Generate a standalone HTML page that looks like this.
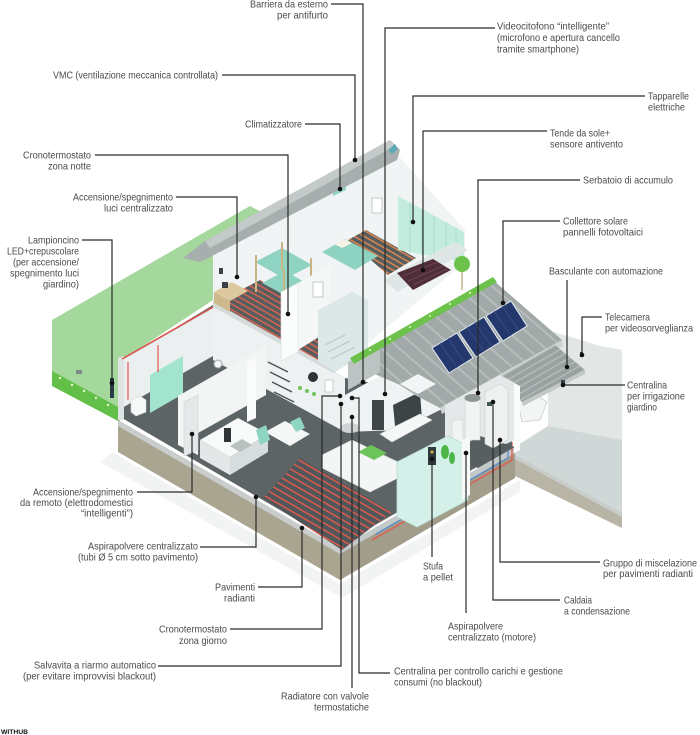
<!DOCTYPE html>
<html><head><meta charset="utf-8">
<style>
html,body{margin:0;padding:0;background:#fff;}
svg{display:block}
text{font-family:"Liberation Sans Narrow","Liberation Sans",sans-serif;font-size:10.5px;fill:#4a4a4a}
</style></head><body>
<svg width="700" height="735" viewBox="0 0 700 735" xmlns="http://www.w3.org/2000/svg">
<defs>
<pattern id="tubeU" width="5" height="5" patternUnits="userSpaceOnUse" patternTransform="rotate(30)">
<rect width="5" height="5" fill="#565d5f"/><line x1="0" y1="2.5" x2="5" y2="2.5" stroke="#e2634f" stroke-width="1.4"/></pattern>
<pattern id="tubeO" width="5" height="5" patternUnits="userSpaceOnUse" patternTransform="rotate(30)">
<rect width="5" height="5" fill="#565d5f"/><line x1="0" y1="2.5" x2="5" y2="2.5" stroke="#e68a4f" stroke-width="1.4"/></pattern>
<pattern id="tubeG" width="6" height="6" patternUnits="userSpaceOnUse" patternTransform="rotate(30)">
<rect width="6" height="6" fill="#50575a"/><line x1="0" y1="3" x2="6" y2="3" stroke="#e05a4c" stroke-width="1.5"/></pattern>
<pattern id="roofR" width="12" height="12" patternUnits="userSpaceOnUse" patternTransform="rotate(41)">
<rect width="12" height="12" fill="#a2aaa9"/><rect y="0" width="12" height="2" fill="#b6bdbc"/></pattern>
<pattern id="canopy" width="6" height="6" patternUnits="userSpaceOnUse" patternTransform="rotate(-30)">
<rect width="6" height="6" fill="#99a2a1"/><rect y="0" width="6" height="1.5" fill="#b3bab9"/></pattern>
</defs>

<!-- faint shadow -->
<polygon points="112,452 340,584 520,480 520,492 342,598 100,462" fill="#f2f3f3"/>

<!-- right ground block -->
<polygon points="548,330 600,346 622,350 622,442 548,428" fill="#e2e7e6"/>
<polygon points="515,447 548,426 622,440 622,513 515,455" fill="#d0d8d7"/>
<polygon points="515,455 622,513 622,528 515,476" fill="#b8b5a6"/>
<polygon points="515,455 622,513 622,517 515,459" fill="#c8cdcc"/>

<!-- lawn -->
<polygon points="52,320 250,206 292,228 213,300 122,360 122,420 52,384" fill="#a4d89c"/>
<polygon points="52,371 120,408 120,422 52,386" fill="#62bf48"/>
<g fill="#e9f7c8">
<circle cx="60" cy="378" r="1.2"/><circle cx="72" cy="385" r="1.2"/><circle cx="84" cy="391" r="1.2"/><circle cx="96" cy="398" r="1.2"/><circle cx="108" cy="405" r="1.2"/>
</g>
<rect x="76" y="370" width="6" height="4" fill="#7f8a8a"/>
<rect x="110" y="378" width="4" height="20" fill="#2b3a48"/>

<!-- ground floor slab faces -->
<polygon points="118,420 340,548 340,580 118,452" fill="#aaa591"/>
<polygon points="118,420 340,548 340,554 118,426" fill="#c9cecd"/>
<polygon points="340,548 515,447 515,478 340,580" fill="#a29d8a"/>
<polygon points="340,548 515,447 515,453 340,554" fill="#c3c9c8"/>
<polyline points="376,534 508,458 508,440" fill="none" stroke="#5b8fd0" stroke-width="1.3"/>
<polyline points="372,540 512,460 512,442" fill="none" stroke="#e3584e" stroke-width="1.3"/>

<!-- ground floor floor -->
<polygon points="122,418 340,545 512,447 512,425 470,400 440,410 400,388 345,378 213,305 122,360" fill="#5d6466"/>
<!-- back wall under upper floor -->
<polygon points="213,305 345,378 345,432 213,360" fill="#eef1f1"/>

<!-- bath -->
<polygon points="122,360 213,308 213,356 122,408" fill="#eceff0"/>
<polygon points="150,375 183,356 183,394 150,413" fill="#a3e4cf"/>
<polygon points="118,358 124,356 124,420 118,420" fill="#dfe3e3"/>
<line x1="122" y1="359" x2="213" y2="307" stroke="#e2574c" stroke-width="1.5"/>
<line x1="128" y1="362" x2="128" y2="400" stroke="#e2574c" stroke-width="1.2"/>
<line x1="158" y1="345" x2="158" y2="372" stroke="#e2574c" stroke-width="1.2"/>
<polygon points="131,400 140,396 146,400 146,412 136,416 131,412" fill="#f7f9f9" stroke="#cfd5d5" stroke-width="0.6"/>
<circle cx="218" cy="364" r="4" fill="#f4f6f6" stroke="#9aa3a6" stroke-width="1"/>

<!-- kitchen -->
<polygon points="178,396 266,346 266,395 198,433 198,455 178,445" fill="#f3f5f5"/>
<polygon points="184,402 198,395 198,450 184,456" fill="#e4e8e8" stroke="#cdd3d3" stroke-width="0.6"/>
<polygon points="200,440 238,418 268,434 230,457" fill="#f8f9f9"/>
<polygon points="200,440 230,457 230,475 200,458" fill="#e3e7e7"/>
<polygon points="230,457 268,434 268,452 230,475" fill="#d7dcdc"/>
<polygon points="230,446 242,439 252,445 240,452" fill="#b9c0c0"/>
<rect x="224" y="428" width="7" height="14" fill="#2f3537"/>

<!-- shelves wall -->
<polygon points="247,362 256,358 256,418 247,422" fill="#fafbfb"/>
<g stroke="#4d5456" stroke-width="1.5">
<line x1="268" y1="362" x2="288" y2="372"/><line x1="270" y1="372" x2="290" y2="382"/><line x1="272" y1="382" x2="292" y2="392"/><line x1="274" y1="392" x2="294" y2="402"/>
</g>
<rect x="308" y="372" width="10" height="10" fill="#2f3537" rx="5"/>
<rect x="325" y="380" width="8" height="12" fill="#fff" stroke="#bfc6c6" stroke-width="0.8"/>
<g fill="#6dc45a"><circle cx="300" cy="388" r="2"/><circle cx="307" cy="391" r="2"/><circle cx="314" cy="394" r="2"/></g>

<!-- dining -->
<polygon points="265,432 285,421 310,434 290,446" fill="#f5f7f7"/>
<polygon points="256,430 266,425 270,440 260,445" fill="#8fd5c3"/>
<polygon points="290,422 300,417 305,428 296,432" fill="#8fd5c3"/>

<!-- radiant zone -->
<polygon points="263,498 300,458 392,512 342,550" fill="url(#tubeG)"/>

<!-- living -->
<polygon points="345,395 398,366 440,388 440,410 400,430 345,432" fill="#f0f3f3"/>
<rect x="372" y="400" width="12" height="30" fill="#3f4648"/>
<polygon points="393,405 420,392 422,420 396,436" fill="#3d4446"/>
<polygon points="380,434 420,414 432,420 392,442" fill="#f6f7f7" stroke="#d3d8d8" stroke-width="0.6"/>
<ellipse cx="350" cy="428" rx="10" ry="5" fill="#cfd5d5"/>
<polygon points="322,455 352,440 398,462 398,478 370,492 322,468" fill="#f4f6f6" stroke="#d2d7d7" stroke-width="0.6"/>
<polygon points="358,452 371,445 387,453 374,460" fill="#6dc45a"/>

<!-- upper floor base -->
<polygon points="213,253 300,205 367,160 395,152 465,230 465,262 360,350 335,372 213,305" fill="#f1f4f4"/>
<polygon points="213,300 335,367 335,374 213,307" fill="#d5dada"/>
<polygon points="216,303 260,280 336,322 336,370" fill="url(#tubeU)"/>
<!-- desk -->
<polygon points="214,292 232,282 248,291 230,301" fill="#dcc9a0"/>
<polygon points="214,292 230,301 230,312 214,303" fill="#cdb98c"/>
<rect x="222" y="282" width="6" height="6" fill="#3a4244"/>
<rect x="219" y="268" width="4" height="6" fill="#3a4244"/>
<!-- bunk bed -->
<polygon points="255,262 282,248 312,265 285,279" fill="#8fd3c2"/>
<polygon points="262,283 285,271 312,286 290,298" fill="#8fd3c2"/>
<g stroke="#c9b483" stroke-width="2"><line x1="256" y1="255" x2="256" y2="292"/><line x1="284" y1="270" x2="284" y2="300"/><line x1="311" y1="258" x2="311" y2="292"/><line x1="282" y1="242" x2="282" y2="270"/></g>
<!-- pillar & wall -->
<polygon points="298,283 330,265 330,330 298,350" fill="#f5f7f7"/>
<polygon points="281,292 298,283 298,352 281,361" fill="#fbfcfc" stroke="#d9dede" stroke-width="0.6"/>
<rect x="313" y="282" width="10" height="15" fill="#fff" stroke="#b5bcbc" stroke-width="0.8"/>
<!-- bedroom 2 -->
<polygon points="348,240 366,230 416,258 388,275" fill="url(#tubeO)"/>
<polygon points="322,252 345,239 378,256 355,270" fill="#8ed3c2"/>
<polygon points="334,244 344,239 352,243 342,248" fill="#f6f3e6"/>
<polygon points="333,187 346,181 346,190 333,196" fill="#8fd5c4"/>
<rect x="372" y="198" width="10" height="15" fill="#fff" stroke="#b5bcbc" stroke-width="0.8"/>
<!-- glass walls -->
<polygon points="398,196 464,232 464,262 398,250" fill="#c3ecdf"/>
<g stroke="#a6dccd" stroke-width="1"><line x1="410" y1="203" x2="410" y2="252"/><line x1="422" y1="209" x2="422" y2="255"/><line x1="434" y1="216" x2="434" y2="257"/><line x1="446" y1="222" x2="446" y2="259"/><line x1="456" y1="228" x2="456" y2="261"/></g>
<!-- balcony -->
<polygon points="383,280 455,242 468,250 398,292" fill="#dfe7e6"/>
<polygon points="397,273 433,259 451,270 413,290" fill="#4f2d3a"/>
<g stroke="#6b4452" stroke-width="1"><line x1="403" y1="276" x2="438" y2="262"/><line x1="408" y1="281" x2="443" y2="266"/><line x1="413" y1="285" x2="447" y2="269"/></g>
<line x1="462" y1="272" x2="462" y2="290" stroke="#c9b48a" stroke-width="1.5"/>
<circle cx="462" cy="264" r="8" fill="#6cc24a"/>
<!-- stair box -->
<polygon points="318,310 352,292 368,300 368,352 335,372 318,362" fill="#dbe8e7"/>
<g stroke="#b7c7c6" stroke-width="1"><line x1="325" y1="345" x2="345" y2="335"/><line x1="328" y1="352" x2="350" y2="341"/><line x1="331" y1="359" x2="355" y2="347"/></g>

<!-- left roof -->
<polygon points="183,258 205,241 390,140 400,150 397,160 214,255 200,262" fill="#a6afae"/>
<polygon points="205,241 390,140 395,146 210,248" fill="#c3cac9"/>
<polygon points="388,150 395,144 398,149 392,154" fill="#5fa8b8"/>

<!-- right roof -->
<polygon points="350,362 493,280 562,340 440,408 415,395 400,385 370,372" fill="url(#roofR)"/>
<polygon points="440,408 562,340 563,346 442,414" fill="#cdd3d2"/>
<polygon points="348,362 380,344 380,372 348,390" fill="#bcc4c3"/>
<polygon points="350,358 493,277 497,282 354,364" fill="#6cc24a"/>
<g fill="#e9f7c8"><circle cx="370" cy="350" r="1"/><circle cx="390" cy="339" r="1"/><circle cx="410" cy="327" r="1"/><circle cx="430" cy="316" r="1"/><circle cx="450" cy="304" r="1"/><circle cx="470" cy="293" r="1"/></g>
<polygon points="400,384 418,374 436,384 418,394" fill="#f2f5f5"/>
<!-- solar panels -->
<g fill="#25386e" stroke="#e8eef0" stroke-width="1">
<polygon points="432,348 457,333 473,358 449,373"/>
<polygon points="459,332 484,317 500,342 476,357"/>
<polygon points="486,316 511,301 527,326 503,341"/>
</g>
<g stroke="#3d5288" stroke-width="0.7">
<line x1="440" y1="343" x2="457" y2="368"/><line x1="448" y1="338" x2="465" y2="363"/>
<line x1="467" y1="327" x2="484" y2="352"/><line x1="475" y1="322" x2="492" y2="347"/>
<line x1="494" y1="311" x2="511" y2="336"/><line x1="502" y1="306" x2="519" y2="331"/>
</g>

<!-- canopy & garage -->
<polygon points="517,400 532,392 547,402 540,420 522,422" fill="#f3f5f5" stroke="#c8cecd" stroke-width="0.8"/>
<polygon points="498,378 555,345 585,370 522,402" fill="url(#canopy)"/>
<polygon points="522,402 585,370 585,374 523,406" fill="#c3c9c8"/>
<rect x="561" y="380" width="4" height="6" fill="#3a4244"/>
<rect x="580" y="352" width="3" height="5" fill="#3a4244"/>

<!-- utility room -->
<polygon points="445,405 500,375 515,383 515,440 445,470" fill="#e4e8e8"/>
<polygon points="445,455 480,436 515,447 478,468" fill="#585f61"/>
<rect x="452" y="420" width="11" height="32" fill="#f2f4f4" stroke="#cdd3d3" stroke-width="0.6"/>
<rect x="465" y="398" width="15" height="42" fill="#f2f4f4" stroke="#cdd3d3" stroke-width="0.6"/>
<ellipse cx="472.5" cy="398" rx="8" ry="4" fill="#8e9796"/>
<polygon points="485,392 500,384 508,389 508,440 493,448 485,444" fill="#eff1f1" stroke="#c9cfcf" stroke-width="0.6"/>
<rect x="487" y="402" width="5" height="4" fill="#3c5a4a"/>
<polygon points="514,383 520,386 520,450 514,453" fill="#fbfcfc"/>

<!-- glass box living -->
<polygon points="397,462 448,436 468,446 468,500 417,527 397,517" fill="#d4f0e9" stroke="#b8dcd3" stroke-width="0.8"/>
<rect x="428" y="447" width="8" height="18" fill="#2f3a3c"/>
<circle cx="432" cy="452" r="1.5" fill="#d9b84a"/>
<g fill="#4fb548"><ellipse cx="445" cy="452" rx="4" ry="7"/><ellipse cx="452" cy="458" rx="3" ry="6"/></g>
<polygon points="462,440 470,436 470,495 462,500" fill="#f7f9f9"/>

<!-- leader lines -->
<g fill="none" stroke="#2a2a2a" stroke-width="1.2">
<polyline points="331,4 363,4 363,382"/>
<polyline points="222,75 355,75 355,160"/>
<polyline points="305,124 340,124 340,189"/>
<polyline points="95,155 288,155 288,314"/>
<polyline points="176,197 237,197 237,277"/>
<polyline points="82,240 112,240 112,383"/>
<polyline points="495,28 385,28 385,394"/>
<polyline points="645,96 413,96 413,222"/>
<polyline points="547,131 423,131 423,270"/>
<polyline points="580,180 478,180 478,393"/>
<polyline points="560,221 503,221 503,303"/>
<polyline points="567,280 567,367"/>
<polyline points="602,317 582,317 582,355"/>
<polyline points="625,385 563,385"/>
<polyline points="432,557 432,459"/>
<polyline points="600,562 500,562 500,440"/>
<polyline points="560,600 493,600 493,402"/>
<polyline points="466,613 466,453"/>
<polyline points="390,673 359,673 359,398 352,398"/>
<polyline points="352,688 352,417"/>
<polyline points="158,666 341,666 341,404"/>
<polyline points="230,629 322,629 322,396 340,396"/>
<polyline points="258,587 302,587 302,528"/>
<polyline points="200,547 256,547 256,497"/>
<polyline points="137,492 192,492 192,434"/>
</g>
<g fill="#111">
<circle cx="363" cy="382" r="2.3"/><circle cx="355" cy="160" r="2.3"/><circle cx="340" cy="189" r="2.3"/>
<circle cx="288" cy="314" r="2.3"/><circle cx="237" cy="277" r="2.3"/><circle cx="112" cy="383" r="2.3"/>
<circle cx="385" cy="394" r="2.3"/><circle cx="413" cy="222" r="2.3"/><circle cx="423" cy="270" r="2.3"/>
<circle cx="478" cy="393" r="2.3"/><circle cx="503" cy="303" r="2.3"/><circle cx="567" cy="367" r="2.3"/>
<circle cx="582" cy="355" r="2.3"/><circle cx="563" cy="385" r="2.3"/><circle cx="432" cy="459" r="2.3"/>
<circle cx="500" cy="440" r="2.3"/><circle cx="493" cy="402" r="2.3"/><circle cx="466" cy="453" r="2.3"/>
<circle cx="352" cy="398" r="2.3"/><circle cx="352" cy="417" r="2.3"/><circle cx="341" cy="404" r="2.3"/>
<circle cx="340" cy="396" r="2.3"/><circle cx="302" cy="528" r="2.3"/><circle cx="256" cy="497" r="2.3"/>
<circle cx="192" cy="434" r="2.3"/>
</g>

<!-- labels -->
<g lengthAdjust="spacingAndGlyphs">
<text x="250" y="7.5" textLength="78" lengthAdjust="spacingAndGlyphs">Barriera da esterno</text>
<text x="277" y="18.5" textLength="51" lengthAdjust="spacingAndGlyphs">per antifurto</text>
<text x="53" y="78.5" textLength="165" lengthAdjust="spacingAndGlyphs">VMC (ventilazione meccanica controllata)</text>
<text x="245" y="127.5" textLength="57" lengthAdjust="spacingAndGlyphs">Climatizzatore</text>
<text x="23" y="158.5" textLength="68" lengthAdjust="spacingAndGlyphs">Cronotermostato</text>
<text x="48" y="169.5" textLength="43" lengthAdjust="spacingAndGlyphs">zona notte</text>
<text x="73" y="200.5" textLength="100" lengthAdjust="spacingAndGlyphs">Accensione/spegnimento</text>
<text x="104" y="211.5" textLength="69" lengthAdjust="spacingAndGlyphs">luci centralizzato</text>
<text x="28" y="243.5" textLength="51" lengthAdjust="spacingAndGlyphs">Lampioncino</text>
<text x="7" y="254.5" textLength="72" lengthAdjust="spacingAndGlyphs">LED+crepuscolare</text>
<text x="13" y="265.5" textLength="66" lengthAdjust="spacingAndGlyphs">(per accensione/</text>
<text x="10" y="276.5" textLength="69" lengthAdjust="spacingAndGlyphs">spegnimento luci</text>
<text x="43" y="287.5" textLength="36" lengthAdjust="spacingAndGlyphs">giardino)</text>
<text x="33" y="495.5" textLength="100" lengthAdjust="spacingAndGlyphs">Accensione/spegnimento</text>
<text x="20" y="506" textLength="113" lengthAdjust="spacingAndGlyphs">da remoto (elettrodomestici</text>
<text x="81" y="516.5" textLength="52" lengthAdjust="spacingAndGlyphs">“intelligenti”)</text>
<text x="88" y="549.5" textLength="110" lengthAdjust="spacingAndGlyphs">Aspirapolvere centralizzato</text>
<text x="78" y="560.5" textLength="120" lengthAdjust="spacingAndGlyphs">(tubi Ø 5 cm sotto pavimento)</text>
<text x="215" y="590.5" textLength="40" lengthAdjust="spacingAndGlyphs">Pavimenti</text>
<text x="224" y="601.5" textLength="31" lengthAdjust="spacingAndGlyphs">radianti</text>
<text x="159" y="632.5" textLength="68" lengthAdjust="spacingAndGlyphs">Cronotermostato</text>
<text x="179" y="644" textLength="48" lengthAdjust="spacingAndGlyphs">zona giorno</text>
<text x="34" y="668.5" textLength="122" lengthAdjust="spacingAndGlyphs">Salvavita a riarmo automatico</text>
<text x="23" y="679.5" textLength="133" lengthAdjust="spacingAndGlyphs">(per evitare improvvisi blackout)</text>
<text x="281" y="699.5" textLength="88" lengthAdjust="spacingAndGlyphs">Radiatore con valvole</text>
<text x="314" y="710.5" textLength="55" lengthAdjust="spacingAndGlyphs">termostatiche</text>
<text x="394" y="674.5" textLength="169" lengthAdjust="spacingAndGlyphs">Centralina per controllo carichi e gestione</text>
<text x="394" y="685.5" textLength="88" lengthAdjust="spacingAndGlyphs">consumi (no blackout)</text>
<text x="448" y="629.5" textLength="55" lengthAdjust="spacingAndGlyphs">Aspirapolvere</text>
<text x="448" y="640.5" textLength="88" lengthAdjust="spacingAndGlyphs">centralizzato (motore)</text>
<text x="564" y="603.5" textLength="28" lengthAdjust="spacingAndGlyphs">Caldaia</text>
<text x="564" y="614.5" textLength="66" lengthAdjust="spacingAndGlyphs">a condensazione</text>
<text x="603" y="566.5" textLength="94" lengthAdjust="spacingAndGlyphs">Gruppo di miscelazione</text>
<text x="603" y="577" textLength="90" lengthAdjust="spacingAndGlyphs">per pavimenti radianti</text>
<text x="423" y="569.5" textLength="20" lengthAdjust="spacingAndGlyphs">Stufa</text>
<text x="423" y="580.5" textLength="30" lengthAdjust="spacingAndGlyphs">a pellet</text>
<text x="497" y="29.5" textLength="112" lengthAdjust="spacingAndGlyphs">Videocitofono “intelligente”</text>
<text x="497" y="41" textLength="123" lengthAdjust="spacingAndGlyphs">(microfono e apertura cancello</text>
<text x="497" y="52.5" textLength="82" lengthAdjust="spacingAndGlyphs">tramite smartphone)</text>
<text x="648" y="99.5" textLength="41" lengthAdjust="spacingAndGlyphs">Tapparelle</text>
<text x="648" y="110.5" textLength="37" lengthAdjust="spacingAndGlyphs">elettriche</text>
<text x="550" y="136.5" textLength="60" lengthAdjust="spacingAndGlyphs">Tende da sole+</text>
<text x="550" y="147.5" textLength="73" lengthAdjust="spacingAndGlyphs">sensore antivento</text>
<text x="583" y="183.5" textLength="90" lengthAdjust="spacingAndGlyphs">Serbatoio di accumulo</text>
<text x="563" y="224.5" textLength="65" lengthAdjust="spacingAndGlyphs">Collettore solare</text>
<text x="563" y="235.5" textLength="80" lengthAdjust="spacingAndGlyphs">pannelli fotovoltaici</text>
<text x="549" y="274.5" textLength="114" lengthAdjust="spacingAndGlyphs">Basculante con automazione</text>
<text x="605" y="320.5" textLength="45" lengthAdjust="spacingAndGlyphs">Telecamera</text>
<text x="605" y="331.5" textLength="88" lengthAdjust="spacingAndGlyphs">per videosorveglianza</text>
<text x="627" y="388.5" textLength="40" lengthAdjust="spacingAndGlyphs">Centralina</text>
<text x="627" y="399.5" textLength="58" lengthAdjust="spacingAndGlyphs">per irrigazione</text>
<text x="627" y="410.5" textLength="30" lengthAdjust="spacingAndGlyphs">giardino</text>
</g>
<text x="1" y="734" textLength="27" lengthAdjust="spacingAndGlyphs" style="font-size:6px;font-weight:bold;fill:#111">WITHUB</text>
</svg>
</body></html>
